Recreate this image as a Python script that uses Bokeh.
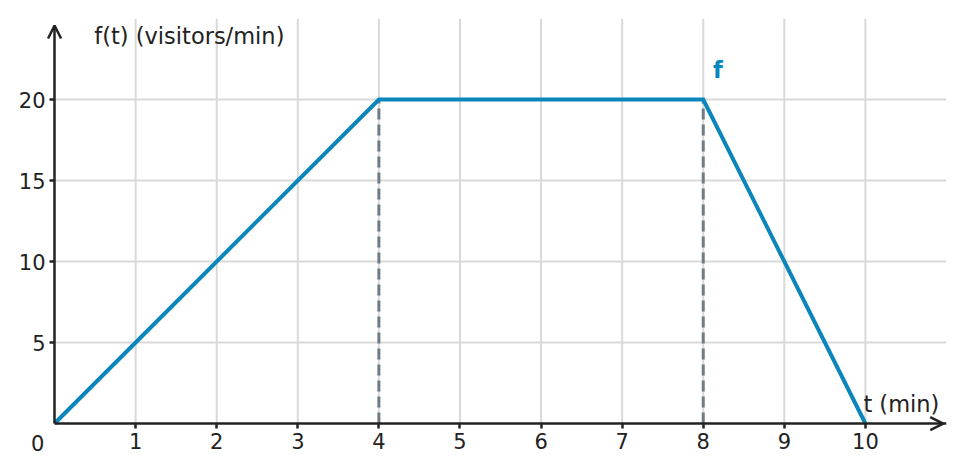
from bokeh.plotting import figure
from bokeh.models import FixedTicker, Arrow, OpenHead
from bokeh.core.properties import value
from bokeh.embed import file_html
from bokeh.resources import INLINE

# data
t_vals = [0, 4, 8, 10]
f_vals = [0, 20, 20, 0]
dash_t = [4, 8]
dash_f = [20, 20]
x_ticks = [1, 2, 3, 4, 5, 6, 7, 8, 9, 10]
y_ticks = [5, 10, 15, 20]
x_title = "t (min)"
y_title = "f(t) (visitors/min)"
series_label = "f"
origin_label = "0"

FONT = "DejaVu Sans"
BLUE = "#0a86bd"
DARK = "#222222"
X_MAX, Y_MAX = 11.0, 25.0
X_ARROW, Y_ARROW = 10.96, 24.57

p = figure(width=948, height=466, x_range=(-0.642, X_MAX), y_range=(-2.53, Y_MAX),
           output_backend="svg", toolbar_location=None,
           min_border_left=2, min_border_right=2, min_border_top=18,
           min_border_bottom=2)
p.outline_line_color = None
p.background_fill_color = "white"
p.grid.visible = False

# grid lines limited to the first quadrant
p.segment(x0=x_ticks, y0=[0] * len(x_ticks), x1=x_ticks, y1=[Y_MAX] * len(x_ticks),
          line_color="#d9d9d9", line_width=2)
p.segment(x0=[0] * len(y_ticks), y0=y_ticks, x1=[X_MAX] * len(y_ticks), y1=y_ticks,
          line_color="#d9d9d9", line_width=2)

for ax, ticks in ((p.xaxis[0], x_ticks), (p.yaxis[0], y_ticks)):
    ax.ticker = FixedTicker(ticks=ticks)
    ax.fixed_location = 0
    ax.axis_line_color = DARK
    ax.axis_line_width = 2.5
    ax.major_tick_in = 0
    ax.major_tick_out = 5
    ax.major_tick_line_width = 2.5
    ax.major_tick_line_color = DARK
    ax.minor_tick_line_color = None
    ax.major_label_text_font = FONT
    ax.major_label_text_font_size = "21px"
    ax.major_label_text_color = DARK
p.xaxis.bounds = (0, X_MAX)
p.yaxis.bounds = (0, Y_ARROW)
p.xaxis.major_label_standoff = 4
p.yaxis.major_label_standoff = 4

# dashed guide lines
p.segment(x0=dash_t, y0=[0, 0], x1=dash_t, y1=dash_f,
          line_color="#6e7b86", line_width=3, line_dash="11 5")

# main line
p.line(t_vals, f_vals, line_color=BLUE, line_width=4, line_join="miter")

# axis arrow heads
p.add_layout(Arrow(x_start=0, y_start=0, x_end=X_ARROW, y_end=0,
                   line_alpha=0,
                   end=OpenHead(size=13, line_color=DARK, line_width=2.5)))
p.add_layout(Arrow(x_start=0, y_start=0, x_end=0, y_end=Y_ARROW,
                   line_alpha=0,
                   end=OpenHead(size=13, line_color=DARK, line_width=2.5)))

# texts
p.text(x=[0], y=[0], text=[origin_label], x_offset=-17, y_offset=19,
       text_align="center", text_baseline="middle",
       text_font=value(FONT), text_font_size="21px", text_color=DARK)
p.text(x=[0.49], y=[23.9], text=[y_title], text_align="left",
       text_baseline="middle", text_font=value(FONT),
       text_font_size="22.5px", text_color=DARK)
p.text(x=[9.975], y=[1.23], text=[x_title], text_align="left",
       text_baseline="middle", text_font=value(FONT),
       text_font_size="22.5px", text_color=DARK)
p.text(x=[8.12], y=[21.85], text=[series_label], text_align="left",
       text_baseline="middle", text_font=value(FONT),
       text_font_size="22.5px", text_font_style="bold", text_color=BLUE)

open("out.html", "w").write(file_html(p, INLINE))
